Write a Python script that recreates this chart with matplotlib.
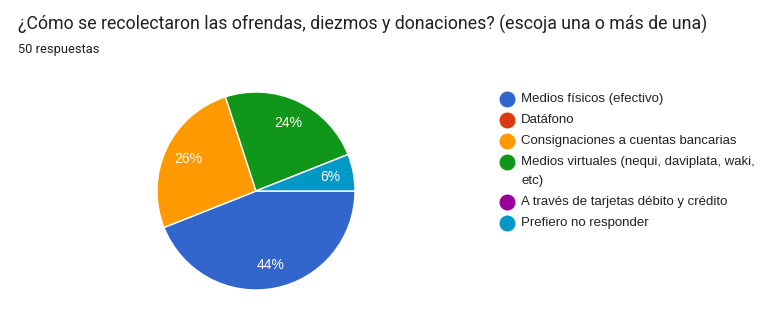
import matplotlib.pyplot as plt

title = "¿Cómo se recolectaron las ofrendas, diezmos y donaciones? (escoja una o más de una)"
subtitle = "50 respuestas"
labels = ["Medios físicos (efectivo)", "Datáfono", "Consignaciones a cuentas bancarias",
          "Medios virtuales (nequi, daviplata, waki,\netc)", "A través de tarjetas débito y crédito",
          "Prefiero no responder"]
counts = [22, 0, 13, 12, 0, 3]
colors = ["#3366cc", "#dc3912", "#ff9900", "#109618", "#990099", "#0099c6"]

W, H = 767, 311
fig = plt.figure(figsize=(W / 100, H / 100), dpi=100)
fig.patch.set_facecolor("white")

fig.text(18 / W, 1 - 24 / H, title, fontsize=12.75, family="Roboto", color="#202124", va="center")
fig.text(18 / W, 1 - 49 / H, subtitle, fontsize=9.3, family="Roboto", color="#202124", va="center")

# pie
cx, cy, r = 256, 191, 99
ax = fig.add_axes([(cx - r) / W, (H - cy - r) / H, 2 * r / W, 2 * r / H])
ax.pie(counts, colors=colors, startangle=0, counterclock=False,
       autopct=lambda p: f"{p:.0f}%" if p > 0 else "", pctdistance=0.76,
       wedgeprops={"edgecolor": "white", "linewidth": 1},
       textprops={"color": "white", "fontsize": 10, "family": "Liberation Sans"})
ax.set_xlim(-1, 1)
ax.set_ylim(-1, 1)

# legend, drawn by hand so the wrapped label keeps its marker on the first line
y = 99
for lab, col in zip(labels, colors):
    fig.add_artist(plt.Line2D([507 / W], [1 - y / H], marker="o", markersize=10.5,
                              color=col, transform=fig.transFigure))
    lines = lab.split("\n")
    for i, line in enumerate(lines):
        fig.text(521 / W, 1 - y / H, line, fontsize=9.5, family="Liberation Sans",
                 color="#222222", va="center")
        if i < len(lines) - 1:
            y += 19
    y += 21

fig.savefig("out.png", dpi=100)
